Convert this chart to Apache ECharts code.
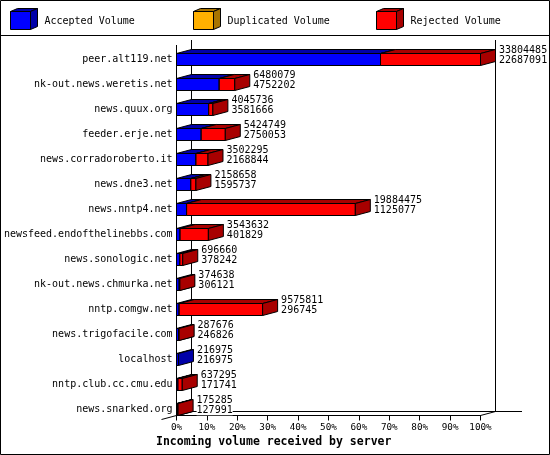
<!DOCTYPE html>
<html>
<head>
<meta charset="utf-8">
<script src="https://cdn.jsdelivr.net/npm/echarts@6/dist/echarts.min.js"></script>
<style>
html,body{margin:0;padding:0;background:#fff;}
#c{width:550px;height:455px;}
</style>
</head>
<body>
<div id="c"></div>
<script>
const categories = [
  'peer.alt119.net', 'nk-out.news.weretis.net', 'news.quux.org', 'feeder.erje.net',
  'news.corradoroberto.it', 'news.dne3.net', 'news.nntp4.net', 'newsfeed.endofthelinebbs.com',
  'news.sonologic.net', 'nk-out.news.chmurka.net', 'nntp.comgw.net', 'news.trigofacile.com',
  'localhost', 'nntp.club.cc.cmu.edu', 'news.snarked.org'
];
const totalVolume = [
  33804485, 6480079, 4045736, 5424749, 3502295, 2158658, 19884475, 3543632,
  696660, 374638, 9575811, 287676, 216975, 637295, 175285
];
const acceptedVolume = [
  22687091, 4752202, 3581666, 2750053, 2168844, 1595737, 1125077, 401829,
  378242, 306121, 296745, 246826, 216975, 171741, 127991
];
const duplicatedVolume = [0, 0, 0, 0, 0, 0, 0, 0, 0, 0, 0, 0, 0, 0, 0];
const legendNames = ['Accepted Volume', 'Duplicated Volume', 'Rejected Volume'];
const axisTitle = 'Incoming volume received by server';

const MONO = "'DejaVu Sans Mono', monospace";
const FRONT = ['#0000FF', '#FFB000', '#FF0000'];
const SHADE = ['#0000A8', '#A87400', '#A80000'];
const DX = 15, DY = 4, BARH = 12;

const maxTotal = Math.max.apply(null, totalVolume);
const pct = v => v / maxTotal * 100;

const segData = [[], [], []];
categories.forEach((c, i) => {
  const a = acceptedVolume[i];
  const d = duplicatedVolume[i];
  const r = totalVolume[i] - a - d;
  let s = 0;
  [a, d, r].forEach((v, k) => {
    segData[k].push([pct(s), pct(s + v), i]);
    s += v;
  });
});
const labelData = categories.map((c, i) => [pct(totalVolume[i]), i, totalVolume[i], acceptedVolume[i]]);

function barRender(k) {
  return function (params, api) {
    const s = api.value(0), e = api.value(1), idx = api.value(2);
    if (!(e - s > 0)) return null;
    const p0 = api.coord([s, idx]);
    const p1 = api.coord([e, idx]);
    const bw = api.size([0, 1])[1];
    const yb = p0[1] + bw / 2;
    const yt = yb - BARH;
    const x0 = p0[0], x1 = p1[0];
    const st = { stroke: '#000', lineWidth: 1 };
    return {
      type: 'group',
      children: [
        { type: 'polygon', shape: { points: [[x0, yt], [x1, yt], [x1, yb], [x0, yb]] },
          style: Object.assign({ fill: FRONT[k] }, st) },
        { type: 'polygon', shape: { points: [[x0, yt], [x0 + DX, yt - DY], [x1 + DX, yt - DY], [x1, yt]] },
          style: Object.assign({ fill: SHADE[k] }, st) },
        { type: 'polygon', shape: { points: [[x1, yt], [x1 + DX, yt - DY], [x1 + DX, yb - DY], [x1, yb]] },
          style: Object.assign({ fill: SHADE[k] }, st) }
      ]
    };
  };
}

function labelRender(params, api) {
  const e = api.value(0), idx = api.value(1);
  const p = api.coord([e, idx]);
  const bw = api.size([0, 1])[1];
  const y = p[1] + bw / 2 - BARH / 2 - DY;
  return {
    type: 'text',
    x: p[0] + DX + 3.5,
    y: y,
    style: {
      text: api.value(2) + '\n' + api.value(3),
      fill: '#000',
      fontSize: 10,
      fontFamily: MONO,
      lineHeight: 9.7,
      align: 'left',
      verticalAlign: 'middle',
      backgroundColor: '#fff'
    }
  };
}

const series = [0, 1, 2].map(k => ({
  type: 'custom',
  name: legendNames[k],
  renderItem: barRender(k),
  data: segData[k],
  encode: { x: [0, 1], y: 2 },
  animation: false,
  z: 2 + k
}));
series.push({
  type: 'custom',
  renderItem: labelRender,
  data: labelData,
  encode: { x: 0, y: 1 },
  animation: false,
  z: 6
});

// legend boxes
const legendX = [10.5, 193.5, 376.5];
const legendGraphics = [];
legendX.forEach((x, k) => {
  const y = 11.5, w = 20, h = 18, dx = 7, dy = 3;
  const st = { stroke: '#000', lineWidth: 1 };
  legendGraphics.push(
    { type: 'polygon', shape: { points: [[x, y], [x + w, y], [x + w, y + h], [x, y + h]] }, style: Object.assign({ fill: FRONT[k] }, st) },
    { type: 'polygon', shape: { points: [[x, y], [x + dx, y - dy], [x + w + dx, y - dy], [x + w, y]] }, style: Object.assign({ fill: SHADE[k] }, st) },
    { type: 'polygon', shape: { points: [[x + w, y], [x + w + dx, y - dy], [x + w + dx, y + h - dy], [x + w, y + h]] }, style: Object.assign({ fill: SHADE[k] }, st) },
    { type: 'text', x: x + 34, y: 21, style: { text: legendNames[k], fill: '#000', fontSize: 10, fontFamily: MONO, align: 'left', verticalAlign: 'middle' } }
  );
});

const line = (x1, y1, x2, y2) => ({ type: 'line', shape: { x1, y1, x2, y2 }, style: { stroke: '#000', lineWidth: 1 }, z: 0 });

const chart = echarts.init(document.getElementById('c'), null, { renderer: 'canvas' });
chart.setOption({
  backgroundColor: '#fff',
  animation: false,
  grid: { left: 176.5, top: 40.5, width: 304, height: 375 },
  xAxis: {
    type: 'value', min: 0, max: 100, interval: 10,
    axisLine: { show: true, lineStyle: { color: '#000', width: 1 } },
    axisTick: { show: true, length: 5, lineStyle: { color: '#000' } },
    axisLabel: { formatter: '{value}%', color: '#000', fontSize: 9.3, fontFamily: MONO, margin: 8 },
    splitLine: { show: false }
  },
  yAxis: {
    type: 'category', data: categories, inverse: true,
    axisLine: { show: false }, axisTick: { show: false },
    axisLabel: { interval: 0, color: '#000', fontSize: 10, fontFamily: MONO, margin: 4, verticalAlign: 'top', lineHeight: 13 },
    splitLine: { show: false }
  },
  graphic: [
    { type: 'rect', shape: { x: 0.5, y: 0.5, width: 549, height: 454 }, style: { fill: null, stroke: '#000', lineWidth: 1 }, z: 0 },
    line(0, 35.5, 550, 35.5),
    line(176.5, 45, 176.5, 415.5),
    line(191.5, 40, 191.5, 411.5),
    line(495.5, 40, 495.5, 411.5),
    line(191.5, 411.5, 522, 411.5),
    line(480.5, 415.5, 495.5, 411.5),
    line(161.5, 419.5, 191.5, 411.5),
    { type: 'text', x: 156, y: 441.7, style: { text: axisTitle, fill: '#000', fontSize: 11.5, fontWeight: 'bold', fontFamily: MONO, align: 'left', verticalAlign: 'middle' } }
  ].concat(legendGraphics),
  series: series
});
</script>
</body>
</html>
